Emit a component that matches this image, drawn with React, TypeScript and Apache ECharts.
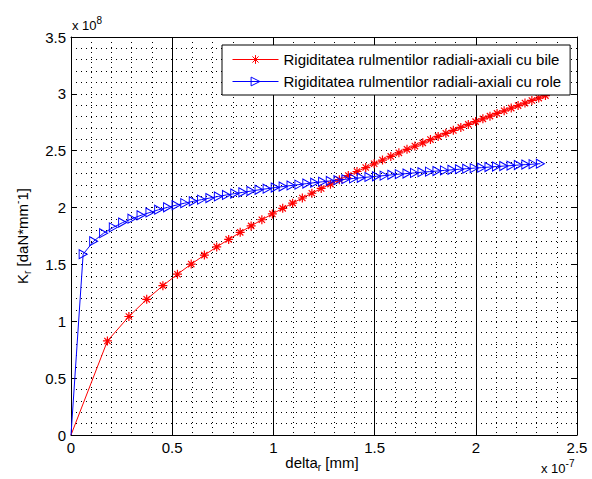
import React, { useEffect, useRef } from "react";
import * as echarts from "echarts";

// x values in units of 1e-7 mm, y values in units of 1e8 daN/mm
const xTicks = ["0", "0.5", "1", "1.5", "2", "2.5"];
const yTicks = ["0", "0.5", "1", "1.5", "2", "2.5", "3", "3.5"];

const seriesNames = [
  "Rigiditatea rulmentilor radiali-axiali cu bile",
  "Rigiditatea rulmentilor radiali-axiali cu role",
];

const bileX = [0, 0.18, 0.286, 0.374, 0.454, 0.526, 0.594, 0.659, 0.72, 0.779, 0.836, 0.89, 0.943, 0.995, 1.046, 1.095, 1.143, 1.19, 1.236, 1.282, 1.326, 1.37, 1.413, 1.456, 1.498, 1.539, 1.58, 1.62, 1.66, 1.699, 1.738, 1.776, 1.814, 1.852, 1.889, 1.926, 1.963, 1.999, 2.035, 2.07, 2.105, 2.14, 2.175, 2.209, 2.243, 2.277, 2.311, 2.344];
const bileY = [0, 0.827, 1.042, 1.193, 1.313, 1.414, 1.503, 1.582, 1.654, 1.72, 1.782, 1.839, 1.893, 1.944, 1.993, 2.039, 2.084, 2.126, 2.168, 2.206, 2.245, 2.282, 2.317, 2.352, 2.385, 2.418, 2.45, 2.481, 2.512, 2.541, 2.569, 2.598, 2.626, 2.653, 2.679, 2.705, 2.731, 2.756, 2.78, 2.804, 2.828, 2.851, 2.875, 2.897, 2.919, 2.942, 2.963, 2.985];

const roleX = [0, 0.06, 0.112, 0.161, 0.209, 0.255, 0.301, 0.346, 0.39, 0.433, 0.477, 0.519, 0.562, 0.604, 0.645, 0.686, 0.728, 0.768, 0.809, 0.849, 0.889, 0.929, 0.969, 1.009, 1.048, 1.087, 1.126, 1.165, 1.204, 1.243, 1.281, 1.319, 1.358, 1.396, 1.434, 1.472, 1.509, 1.547, 1.585, 1.622, 1.66, 1.697, 1.734, 1.771, 1.808, 1.845, 1.882, 1.919, 1.955, 1.992, 2.029, 2.065, 2.102, 2.138, 2.174, 2.21, 2.247, 2.283, 2.319];
const roleY = [0, 1.59, 1.704, 1.775, 1.826, 1.868, 1.902, 1.932, 1.957, 1.981, 2.002, 2.021, 2.039, 2.055, 2.07, 2.084, 2.098, 2.111, 2.123, 2.134, 2.145, 2.156, 2.166, 2.176, 2.185, 2.194, 2.202, 2.211, 2.219, 2.227, 2.234, 2.241, 2.249, 2.256, 2.262, 2.269, 2.275, 2.281, 2.288, 2.294, 2.299, 2.305, 2.311, 2.316, 2.321, 2.327, 2.332, 2.337, 2.342, 2.347, 2.351, 2.356, 2.361, 2.365, 2.369, 2.374, 2.378, 2.382, 2.386];

const FONT = '"Liberation Sans", Arial, Helvetica, sans-serif';
const ASTERISK = "path://M4,0L4,8M0,4L8,4M1.2,1.2L6.8,6.8M6.8,1.2L1.2,6.8";
const TRIANGLE = "path://M0,0L8,4.5L0,9Z";

function toPoints(xs: number[], ys: number[]) {
  return xs.map((x, i) =>
    i === 0 ? { value: [x, ys[i]], symbol: "none" } : { value: [x, ys[i]] }
  );
}

export default function App() {
  const ref = useRef<HTMLDivElement>(null);
  useEffect(() => {
    document.body.style.margin = "0";
    if (!ref.current) return;
    const chart = echarts.init(ref.current, null, { renderer: "svg" });
    const dotted = { color: "#000", width: 1, type: [1, 4] as any };
    const rich = {
      m: { fontSize: 15, fontFamily: FONT, color: "#000", lineHeight: 20, verticalAlign: "middle" },
      s: { fontSize: 13, fontFamily: FONT, color: "#000", lineHeight: 20, verticalAlign: "middle" },
      sub: { fontSize: 10, fontFamily: FONT, color: "#000", lineHeight: 10, verticalAlign: "bottom" },
      sup: { fontSize: 10, fontFamily: FONT, color: "#000", lineHeight: 10, verticalAlign: "top" },
    };
    const baseX = { type: "value", min: 0, max: 2.5, interval: 0.5 };
    const baseY = { type: "value", min: 0, max: 3.5, interval: 0.5 };
    const frameLine = { show: true, onZero: false, lineStyle: { color: "#000", width: 1 } };
    const inTick = { show: true, inside: true, length: 5, lineStyle: { color: "#000" } };
    chart.setOption({
      animation: false,
      backgroundColor: "#fff",
      grid: { left: 71, right: 15, top: 37, bottom: 44, containLabel: false, outerBoundsMode: "none" },
      xAxis: [
        {
          ...baseX,
          position: "bottom",
          axisLine: frameLine,
          axisTick: inTick,
          axisLabel: {
            show: true,
            margin: 5,
            fontSize: 15,
            fontFamily: FONT,
            color: "#000",
            formatter: (v: number) => xTicks[Math.round(v / 0.5)] ?? "",
          },
          splitLine: { show: true, lineStyle: { color: "#000", width: 1, type: "solid" } },
          minorTick: { show: false, splitNumber: 5 },
          minorSplitLine: { show: true, lineStyle: dotted },
        },
        {
          ...baseX,
          position: "top",
          axisLine: frameLine,
          axisTick: inTick,
          axisLabel: { show: false },
          splitLine: { show: false },
        },
      ],
      yAxis: [
        {
          ...baseY,
          position: "left",
          axisLine: frameLine,
          axisTick: inTick,
          axisLabel: {
            show: true,
            margin: 5,
            fontSize: 15,
            fontFamily: FONT,
            color: "#000",
            formatter: (v: number) => yTicks[Math.round(v / 0.5)] ?? "",
          },
          splitLine: { show: true, lineStyle: dotted },
          minorTick: { show: false, splitNumber: 5 },
          minorSplitLine: { show: true, lineStyle: dotted },
        },
        {
          ...baseY,
          position: "right",
          axisLine: frameLine,
          axisTick: inTick,
          axisLabel: { show: false },
          splitLine: { show: false },
        },
      ],
      legend: {
        show: true,
        orient: "vertical",
        left: 222,
        top: 45,
        padding: [6, 9, 5, 10],
        itemGap: 5,
        itemWidth: 46,
        itemHeight: 11,
        backgroundColor: "#fff",
        borderColor: "#000",
        borderWidth: 1,
        borderRadius: 0,
        lineStyle: { width: 1 },
        itemStyle: { borderWidth: 1 },
        textStyle: { fontSize: 15, fontFamily: FONT, color: "#000", lineHeight: 17 },
        data: seriesNames,
      },
      series: [
        {
          name: seriesNames[0],
          type: "line",
          xAxisIndex: 0,
          yAxisIndex: 0,
          data: toPoints(bileX, bileY),
          symbol: ASTERISK,
          symbolSize: 9,
          showAllSymbol: true,
          lineStyle: { color: "#ff0000", width: 1 },
          itemStyle: { color: "#ff0000", borderColor: "#ff0000", borderWidth: 1.2 },
          emphasis: { disabled: true },
          z: 3,
        },
        {
          name: seriesNames[1],
          type: "line",
          xAxisIndex: 0,
          yAxisIndex: 0,
          data: toPoints(roleX, roleY),
          symbol: TRIANGLE,
          symbolSize: [8, 9],
          showAllSymbol: true,
          lineStyle: { color: "#0000ff", width: 1 },
          itemStyle: { color: "rgba(0,0,0,0)", borderColor: "#0000ff", borderWidth: 1 },
          emphasis: { disabled: true },
          z: 4,
        },
      ],
      graphic: [
        {
          type: "text",
          x: 72,
          y: 25,
          style: { text: "{s|x 10}{sup|8}", rich, align: "left", verticalAlign: "middle" },
        },
        {
          type: "text",
          x: 541,
          y: 468,
          style: { text: "{s|x 10}{sup|-7}", rich, align: "left", verticalAlign: "middle" },
        },
        {
          type: "text",
          x: 322,
          y: 462,
          style: { text: "{m|delta}{sub|r}{m| [mm]}", rich, align: "center", verticalAlign: "middle" },
        },
        {
          type: "text",
          x: 22,
          y: 236,
          rotation: Math.PI / 2,
          style: { text: "{m|K}{sub|r}{m| [daN*mm}{sup|-}{m|1]}", rich, align: "center", verticalAlign: "middle" },
        },
      ],
    });
    return () => chart.dispose();
  }, []);
  return <div ref={ref} style={{ width: 592, height: 479 }} />;
}
